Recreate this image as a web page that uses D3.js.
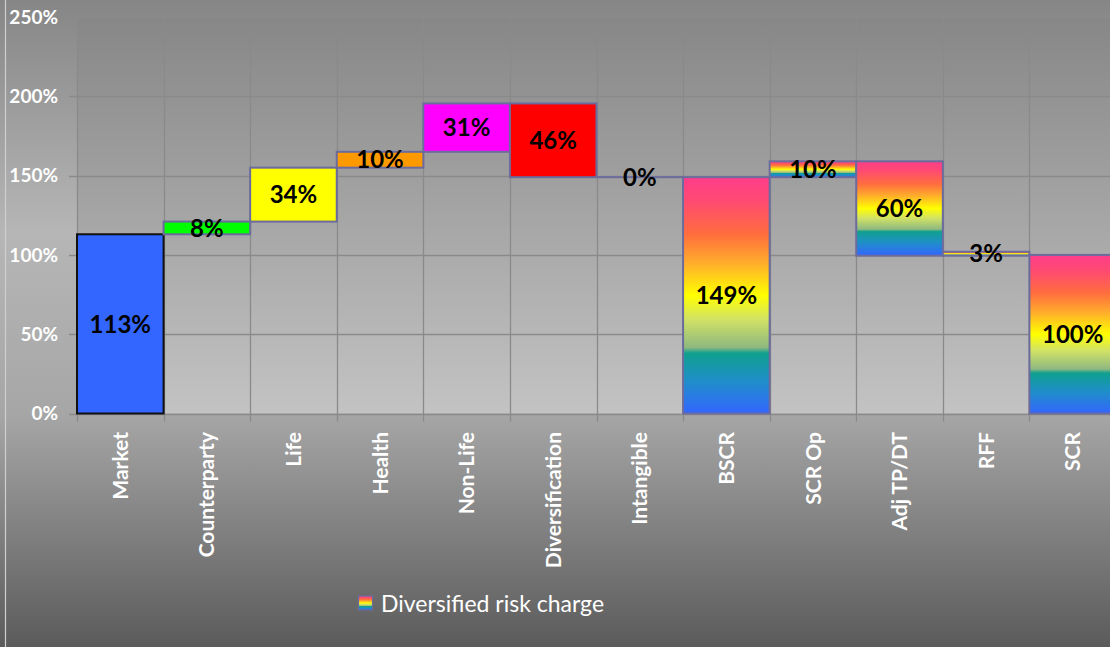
<!DOCTYPE html>
<html>
<head>
<meta charset="utf-8">
<script src="https://cdn.jsdelivr.net/npm/d3@7"></script>
<style>
  html, body { margin: 0; padding: 0; background: #888; }
  svg { display: block; }
</style>
</head>
<body>
<svg id="chart" width="1110" height="647"></svg>
<script>
// ---- data ----
const categories = ["Market","Counterparty","Life","Health","Non-Life","Diversification","Intangible","BSCR","SCR Op","Adj TP/DT","RFF","SCR"];
const barStart = [0, 1.13, 1.21, 1.55, 1.65, 1.955, 1.49, 0, 1.49, 1.59, 0.995, 0];
const barEnd   = [1.13, 1.21, 1.55, 1.65, 1.955, 1.49, 1.49, 1.49, 1.59, 0.995, 1.02, 1.00];
const valueLabels = ["113%","8%","34%","10%","31%","46%","0%","149%","10%","60%","3%","100%"];
const barFills = ["#3366ff","#00ff00","#ffff00","#ff9900","#ff00ff","#ff0000","rainbow","rainbow","rainbow","rainbow","rainbow","rainbow"];
const yTicks = [0, 0.5, 1, 1.5, 2, 2.5];
const legendLabel = "Diversified risk charge";

// ---- layout ----
const W = 1110, H = 647;
const plot = {left: 77, right: 1116, top: 17, bottom: 413.5};
const svg = d3.select("#chart");
const defs = svg.append("defs");

// chart background gradient
const bg = defs.append("linearGradient").attr("id","chartBg").attr("x1",0).attr("y1",0).attr("x2",0).attr("y2",1);
[[0,"#868686"],[0.36,"#b6b6b6"],[0.64,"#a6a6a6"],[1,"#5b5b5b"]].forEach(([o,c]) => bg.append("stop").attr("offset",o).attr("stop-color",c));
const pg = defs.append("linearGradient").attr("id","plotBg").attr("x1",0).attr("y1",0).attr("x2",0).attr("y2",1);
[[0,"#878787"],[1,"#c3c3c3"]].forEach(([o,c]) => pg.append("stop").attr("offset",o).attr("stop-color",c));
const rb = defs.append("linearGradient").attr("id","rainbow").attr("x1",0).attr("y1",0).attr("x2",0).attr("y2",1);
[[0,"#ff3d8a"],[0.1,"#ff4a72"],[0.24,"#ff6d3e"],[0.36,"#ffab2c"],[0.5,"#ffff00"],[0.6,"#d3e364"],[0.72,"#8fb880"],[0.745,"#0fa08e"],[0.86,"#1f8fc8"],[1,"#3366ff"]]
  .forEach(([o,c]) => rb.append("stop").attr("offset",o).attr("stop-color",c));

svg.append("rect").attr("width",W).attr("height",H).attr("fill","url(#chartBg)");
svg.append("line").attr("x1",5.5).attr("x2",5.5).attr("y1",0).attr("y2",H).attr("stroke","#cfcfcf").attr("stroke-width",1.2);
svg.append("rect").attr("x",plot.left).attr("y",plot.top).attr("width",plot.right-plot.left).attr("height",plot.bottom-plot.top).attr("fill","url(#plotBg)");

// scales
const x = d3.scaleBand().domain(categories).range([plot.left, plot.right]).padding(0);
const y = d3.scaleLinear().domain([0, 2.5]).range([plot.bottom, plot.top]);

// gridlines
const grid = svg.append("g");
grid.selectAll("line.h").data(yTicks).join("line")
  .attr("x1", plot.left - 8).attr("x2", plot.right)
  .attr("y1", d => Math.round(y(d))+0.5).attr("y2", d => Math.round(y(d))+0.5)
  .attr("stroke","#8a8a8a").attr("stroke-width",1.3);
const vEdges = categories.map(c => x(c)).concat([plot.right]);
grid.selectAll("line.v").data(vEdges).join("line")
  .attr("x1", d => Math.round(d)+0.5).attr("x2", d => Math.round(d)+0.5)
  .attr("y1", plot.top).attr("y2", plot.bottom + 8)
  .attr("stroke","#8a8a8a").attr("stroke-width",1.3);

// bars
const idx = d3.range(categories.length);
svg.append("g").selectAll("rect").data(idx).join("rect")
  .attr("x", i => x(categories[i]))
  .attr("width", x.bandwidth())
  .attr("y", i => y(Math.max(barStart[i], barEnd[i])))
  .attr("height", i => Math.max(0.001, Math.abs(y(barStart[i]) - y(barEnd[i]))))
  .attr("fill", i => barFills[i] === "rainbow" ? "url(#rainbow)" : barFills[i])
  .attr("stroke", i => i === 0 ? "#111" : "#6b6b9d")
  .attr("stroke-width", 2);

// value labels
svg.append("g").selectAll("text").data(idx).join("text")
  .attr("x", i => x(categories[i]) + x.bandwidth()/2)
  .attr("y", i => y((barStart[i] + barEnd[i]) / 2))
  .attr("dy", "0.36em")
  .attr("text-anchor","middle")
  .attr("font-family","Lato, 'Open Sans', sans-serif")
  .attr("font-weight","bold")
  .attr("font-size", 24)
  .attr("fill","#000")
  .text(i => valueLabels[i]);

// y axis labels
svg.append("g").selectAll("text").data(yTicks).join("text")
  .attr("x", 58).attr("y", d => y(d)).attr("dy","0.36em")
  .attr("text-anchor","end")
  .attr("font-family","Lato, 'Open Sans', sans-serif")
  .attr("font-weight","bold").attr("font-size",19).attr("fill","#fff")
  .text(d => d3.format(".0%")(d));

// x axis labels
svg.append("g").selectAll("text").data(categories).join("text")
  .attr("transform", d => `translate(${x(d) + x.bandwidth()/2},432) rotate(-90)`)
  .attr("dy","0.36em")
  .attr("text-anchor","end")
  .attr("font-family","Lato, 'Open Sans', sans-serif")
  .attr("font-weight","bold").attr("font-size",21).attr("fill","#fff")
  .text(d => d);

// legend
const lg = svg.append("g");
lg.append("rect").attr("x",358.5).attr("y",596).attr("width",14).attr("height",14)
  .attr("fill","url(#rainbow)").attr("stroke","#6b6b9d").attr("stroke-width",1.2);
lg.append("text").attr("x",381).attr("y",604).attr("dy","0.36em")
  .attr("font-family","Lato, 'Open Sans', sans-serif").attr("font-size",23).attr("fill","#fff")
  .text(legendLabel);
</script>
</body>
</html>
